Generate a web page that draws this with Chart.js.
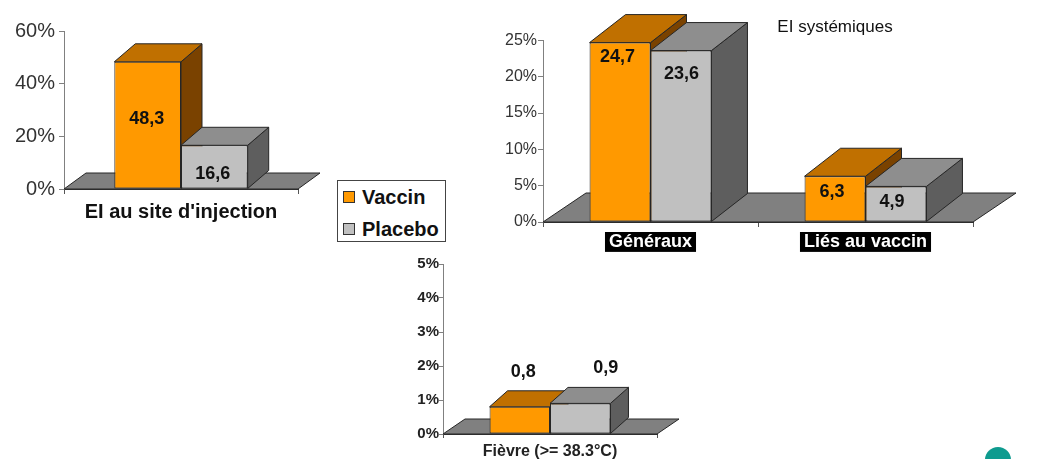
<!DOCTYPE html>
<html><head><meta charset="utf-8">
<script src="https://cdn.jsdelivr.net/npm/chart.js@4/dist/chart.umd.min.js"></script>
<style>
html,body{margin:0;padding:0;background:#fff;overflow:hidden;width:1064px;height:459px;position:relative;}
canvas{position:absolute;display:block;}
#c1{left:0;top:0;}
#c2{left:480px;top:0;}
#c3{left:400px;top:245px;}
#legend{position:absolute;left:337px;top:180px;width:109px;height:62px;box-sizing:border-box;border:1px solid #444;font:bold 20px 'Liberation Sans',Arial,sans-serif;color:#111;}
.item{position:absolute;left:5px;height:24px;display:flex;align-items:center;white-space:nowrap;}
.sw{width:10px;height:10px;border:1px solid #333;margin-right:7px;}
#dot{position:absolute;left:985px;top:447px;width:26px;height:26px;border-radius:50%;background:#0e9b8f;}
</style></head>
<body>
<canvas id="c1" width="330" height="230"></canvas>
<canvas id="c2" width="710" height="265"></canvas>
<canvas id="c3" width="280" height="214"></canvas>
<div id="legend"></div>
<div id="dot"></div>
<script>
// ---- data ----
const seriesNames = ['Vaccin', 'Placebo'];
const injCategories = ["EI au site d'injection"];
const injVaccin = [48.3];
const injPlacebo = [16.6];
const sysTitle = 'EI systémiques';
const sysCategories = ['Généraux', 'Liés au vaccin'];
const sysVaccin = [24.7, 6.3];
const sysPlacebo = [23.6, 4.9];
const feverCategories = ['Fièvre (>= 38.3°C)'];
const feverVaccin = [0.8];
const feverPlacebo = [0.9];

// ---- style ----
const FONT = "'Liberation Sans', Arial, Helvetica, sans-serif";
Chart.defaults.font.family = FONT;
Chart.defaults.color = '#222';
const frontColors = ['#FF9900', '#C0C0C0'];
const topColors = ['#C07000', '#8E8E8E'];
const sideColors = ['#7A4200', '#5E5E5E'];
const edge = '#262626';
const fmt = v => v.toFixed(1).replace('.', ',');

function poly(ctx, pts, fill) {
  ctx.beginPath();
  ctx.moveTo(pts[0][0], pts[0][1]);
  for (let k = 1; k < pts.length; k++) ctx.lineTo(pts[k][0], pts[k][1]);
  ctx.closePath();
  ctx.fillStyle = fill; ctx.fill(); ctx.stroke();
}

const depth3d = {
  id: 'depth3d',
  beforeDatasetsDraw(chart, args, o) {
    const ctx = chart.ctx, a = chart.chartArea;
    ctx.save();
    ctx.lineWidth = 1; ctx.strokeStyle = edge; ctx.lineJoin = 'miter';
    poly(ctx, [[a.left, a.bottom], [a.right, a.bottom], [a.right + o.fdx, a.bottom + o.fdy], [a.left + o.fdx, a.bottom + o.fdy]], '#808080');
    const n = chart.data.labels.length;
    for (let i = 0; i < n; i++) {
      chart.data.datasets.forEach((ds, di) => {
        const el = chart.getDatasetMeta(di).data[i];
        const {x, y, base, width} = el.getProps(['x', 'y', 'base', 'width'], true);
        const l = x - width / 2, r = x + width / 2;
        poly(ctx, [[r, y], [r + o.dx, y + o.dy], [r + o.dx, base + o.dy], [r, base]], sideColors[di]);
        poly(ctx, [[l, y], [r, y], [r + o.dx, y + o.dy], [l + o.dx, y + o.dy]], topColors[di]);
      });
    }
    ctx.restore();
  },
  afterDatasetsDraw(chart, args, o) {
    const ctx = chart.ctx;
    ctx.save();
    ctx.font = o.labelFont; ctx.fillStyle = '#111';
    ctx.textAlign = 'center'; ctx.textBaseline = 'middle';
    chart.data.datasets.forEach((ds, di) => {
      chart.getDatasetMeta(di).data.forEach((el, i) => {
        const off = o.labelOffsets[di][i];
        ctx.fillText(fmt(ds.data[i]), el.x + off[0], el.y + off[1]);
      });
    });
    ctx.restore();
  }
};

function datasets(v, p, cat) {
  return [v, p].map((d, i) => ({
    label: seriesNames[i], data: d,
    backgroundColor: frontColors[i], borderColor: edge, borderWidth: 1,
    borderSkipped: false, categoryPercentage: cat, barPercentage: 1, clip: false
  }));
}

function makeChart(id, labels, v, p, cfg) {
  return new Chart(document.getElementById(id), {
    type: 'bar',
    data: {labels, datasets: datasets(v, p, cfg.cat)},
    plugins: [depth3d],
    options: {
      responsive: false, animation: false, devicePixelRatio: 1,
      layout: {padding: cfg.padding},
      plugins: {
        legend: {display: false}, tooltip: {enabled: false},
        title: cfg.title || {display: false},
        depth3d: cfg.depth
      },
      scales: Object.assign({
        x: {
          grid: {display: true, drawOnChartArea: false, offset: true, tickLength: cfg.xTick, color: '#555'},
          border: {display: true, color: '#333'},
          ticks: cfg.xTicks,
          afterFit: s => { s.height = cfg.xHeight; }
        },
        y: {
          min: 0, max: cfg.max,
          grid: {drawOnChartArea: false, tickLength: cfg.yTick, color: '#808080'},
          border: {display: true, color: '#808080'},
          ticks: Object.assign({stepSize: cfg.step, callback: val => val + '%'}, cfg.yTicks),
          afterFit: s => { s.width = cfg.yWidth; }
        }
      }, cfg.extraScales || {})
    }
  });
}

// Chart 1: EI au site d'injection
makeChart('c1', injCategories, injVaccin, injPlacebo, {
  cat: 0.57, max: 60, step: 20,
  padding: {top: 31, right: 32, left: 0, bottom: 0},
  yWidth: 64, xHeight: 41, yTick: 5, xTick: 5,
  yTicks: {font: {size: 20}, color: '#333', padding: 4},
  xTicks: {font: {size: 20, weight: 'bold'}, color: '#111', padding: 6},
  depth: {dx: 21, dy: -18, fdx: 22, fdy: -16, labelFont: 'bold 18px ' + FONT,
    labelOffsets: [[[-1, 57]], [[-1.5, 29]]]}
});

// Chart 2: EI systémiques
makeChart('c2', sysCategories, sysVaccin, sysPlacebo, {
  cat: 0.567, max: 25, step: 5,
  padding: {top: 0, right: 0, left: 0, bottom: 0},
  title: {display: true, text: sysTitle, color: '#111', font: {size: 17, weight: 'normal'}, padding: {top: 17, bottom: 3}},
  yWidth: 63, xHeight: 43, yTick: 5, xTick: 5,
  yTicks: {font: {size: 16}, color: '#333', padding: 1},
  xTicks: {font: {size: 18, weight: 'bold', lineHeight: 1.05}, color: '#fff', padding: 6,
    showLabelBackdrop: true, backdropColor: '#000', backdropPadding: {left: 4, right: 4, top: 1, bottom: 0}},
  extraScales: {
    y2: {type: 'linear', position: 'right', display: true, grid: {display: false}, ticks: {display: false},
      border: {display: false}, afterFit: s => { s.width = 217; }}
  },
  depth: {dx: 36, dy: -28, fdx: 43, fdy: -29, labelFont: 'bold 18px ' + FONT,
    labelOffsets: [[[-2.5, 14], [-3, 16]], [[0.5, 23], [-4, 16]]]}
});

// Chart 3: Fièvre
makeChart('c3', feverCategories, feverVaccin, feverPlacebo, {
  cat: 0.565, max: 5, step: 1,
  padding: {top: 19, right: 23, left: 0, bottom: 0},
  yWidth: 43, xHeight: 25, yTick: 4, xTick: 4,
  yTicks: {font: {size: 15, weight: 'bold'}, color: '#222', padding: 0},
  xTicks: {font: {size: 16, weight: 'bold'}, color: '#222', padding: 4},
  depth: {dx: 18, dy: -16, fdx: 22, fdy: -15, labelFont: 'bold 18px ' + FONT,
    labelOffsets: [[[3.5, -35]], [[25.5, -35]]]}
});

// Legend (HTML), built from the series names and colours
const lg = document.getElementById('legend');
seriesNames.forEach((name, i) => {
  const it = document.createElement('div');
  it.className = 'item';
  it.style.top = (4 + i * 32) + 'px';
  const sw = document.createElement('span');
  sw.className = 'sw'; sw.style.background = frontColors[i];
  it.appendChild(sw);
  it.appendChild(document.createTextNode(name));
  lg.appendChild(it);
});
</script>
</body></html>
